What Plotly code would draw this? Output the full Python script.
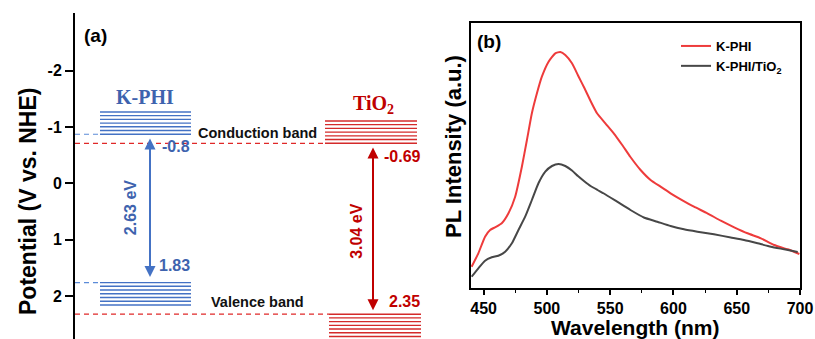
import plotly.graph_objects as go

# ---------------- Panel (a) data: band edges (V vs. NHE) ----------------
materials = ["K-PHI", "TiO<sub>2</sub>"]
cb_edge = [-0.87, -0.71]          # conduction band edges as drawn
vb_edge = [1.76, 2.32]            # valence band edges as drawn
cb_label = ["-0.8", "-0.69"]
vb_label = ["1.83", "2.35"]
gap_label = ["2.63 eV", "3.04 eV"]
n_levels = 7
level_step = 0.066
y_ticks = [-2, -1, 0, 1, 2]

# ---------------- Panel (b) data: PL spectra ----------------
wl_kphi = [440.5, 445.8, 451.1, 455.1, 459.0, 464.3, 469.6, 474.9, 480.2, 484.2,
           488.1, 492.1, 496.0, 501.3, 506.6, 510.6, 514.5, 519.8, 525.1, 529.6,
           534.5, 539.6, 546.2, 552.8, 559.5, 566.0, 574.0, 581.9, 589.8, 597.7,
           605.7, 616.2, 626.8, 637.4, 648.0, 658.5, 669.1, 679.6, 690.3, 699.5]
pl_kphi = [21.3, 34.7, 51.3, 58.0, 60.7, 64.7, 74.7, 91.3, 121.3, 148.0,
           174.7, 194.7, 211.3, 226.3, 234.7, 236.0, 233.0, 224.7, 211.3, 200.0,
           187.0, 174.7, 164.7, 154.7, 143.0, 131.0, 118.0, 108.0, 101.3, 94.7,
           88.7, 81.3, 74.7, 67.3, 60.7, 54.7, 49.7, 43.0, 38.7, 34.0]
wl_comp = [440.5, 445.8, 451.1, 456.4, 461.6, 467.0, 472.3, 477.5, 482.8, 488.1,
           493.3, 498.7, 504.0, 509.2, 514.5, 519.8, 524.5, 529.5, 534.5, 540.0,
           545.0, 555.5, 566.0, 576.6, 587.2, 597.7, 608.3, 618.9, 632.0, 645.3,
           655.8, 666.5, 677.0, 687.5, 698.2]
pl_comp = [11.3, 19.7, 27.3, 30.7, 32.3, 36.3, 44.7, 58.0, 71.3, 88.0,
           104.7, 116.3, 122.0, 124.0, 122.0, 117.5, 112.0, 106.8, 102.0, 98.0,
           94.5, 86.3, 78.0, 70.5, 66.3, 62.0, 58.7, 56.3, 53.7, 50.5,
           48.0, 44.7, 41.3, 38.7, 36.0]
series_names = ["K-PHI", "K-PHI/TiO<sub>2</sub>"]
wl_ticks = [450, 500, 550, 600, 650, 700]

W, H = 815, 339
SANS = "Liberation Sans, Arial, sans-serif"
SERIF = "Liberation Serif, Times New Roman, serif"

blue = "#4472C4"
blue_txt = "#3E63AE"
blue_dash = "#5B8BD8"
red = "#D42A2A"
red_txt = "#C00000"
red_dash = "#E02828"

fig = go.Figure()

# block geometry (x in panel-a units, pixels from the axis)
blocks_x = [(25, 116), (250, 342)]
vb_blocks_x = [(25, 116), (254, 346)]
colors = [blue, red]

for i in range(2):
    xs, ys = [], []
    x0, x1 = blocks_x[i]
    for k in range(n_levels):
        y = cb_edge[i] - k * level_step
        xs += [x0, x1, None]
        ys += [y, y, None]
    x0, x1 = vb_blocks_x[i]
    for k in range(n_levels):
        y = vb_edge[i] + k * level_step
        xs += [x0, x1, None]
        ys += [y, y, None]
    fig.add_trace(go.Scatter(x=xs, y=ys, mode="lines", line=dict(color=colors[i], width=1.4),
                             xaxis="x", yaxis="y", showlegend=False, hoverinfo="skip"))

# dashed extensions to the axis
fig.add_trace(go.Scatter(x=[0, blocks_x[0][0], None, 0, vb_blocks_x[0][0]],
                         y=[cb_edge[0], cb_edge[0], None, vb_edge[0], vb_edge[0]],
                         mode="lines", line=dict(color=blue_dash, width=1.2, dash="5px,4px"),
                         xaxis="x", yaxis="y", showlegend=False, hoverinfo="skip"))
fig.add_trace(go.Scatter(x=[0, blocks_x[1][0], None, 0, vb_blocks_x[1][0]],
                         y=[cb_edge[1], cb_edge[1], None, vb_edge[1], vb_edge[1]],
                         mode="lines", line=dict(color=red_dash, width=1.2, dash="5px,4px"),
                         xaxis="x", yaxis="y", showlegend=False, hoverinfo="skip"))


def txt(x, y, text, size, color, family=SANS, angle=0, ref="x"):
    d = dict(x=x, y=y, text=text, showarrow=False, xanchor="center", yanchor="middle",
             textangle=angle, font=dict(family=family, size=size, color=color))
    if ref == "x":
        d.update(xref="x", yref="y")
    else:
        d.update(xref="paper", yref="paper")
    return d


ann = []
ann.append(txt(70, -1.53, "<b>" + materials[0] + "</b>", 20, blue_txt, SERIF))
ann.append(txt(298, -1.40, "<b>" + materials[1] + "</b>", 20, red_txt, SERIF))
ann.append(txt(182, -0.89, "<b>Conduction band</b>", 14.5, "#111111"))
ann.append(txt(182, 2.10, "<b>Valence band</b>", 14.5, "#111111"))
ann.append(txt(101, -0.66, "<b>" + cb_label[0] + "</b>", 16, blue_txt))
ann.append(txt(99, 1.45, "<b>" + vb_label[0] + "</b>", 16, blue_txt))
ann.append(txt(327, -0.48, "<b>" + cb_label[1] + "</b>", 16, red_txt))
ann.append(txt(329, 2.09, "<b>" + vb_label[1] + "</b>", 16, red_txt))
ann.append(txt(55, 0.44, "<b>" + gap_label[0] + "</b>", 16, blue_txt, angle=-90))
ann.append(txt(282, 0.86, "<b>" + gap_label[1] + "</b>", 16, red_txt, angle=-90))
# double arrows
ann.append(dict(x=75, y=vb_edge[0] - 0.1, ax=75, ay=cb_edge[0] + 0.05, xref="x", yref="y",
                axref="x", ayref="y", text="", showarrow=True, arrowhead=2, startarrowhead=2,
                arrowside="end+start", arrowsize=1.1, arrowwidth=2, arrowcolor=blue))
ann.append(dict(x=298, y=vb_edge[1] - 0.07, ax=298, ay=cb_edge[1] + 0.05, xref="x", yref="y",
                axref="x", ayref="y", text="", showarrow=True, arrowhead=2, startarrowhead=2,
                arrowside="end+start", arrowsize=1.1, arrowwidth=2, arrowcolor=red_txt))
# panel letters and axis titles
ann.append(txt(95 / W, 1 - 35 / H, "<b>(a)</b>", 19, "black", ref="paper"))
ann.append(txt(489 / W, 1 - 41 / H, "<b>(b)</b>", 19, "black", ref="paper"))
ann.append(txt(28 / W, 1 - 202 / H, "<b>Potential (V vs. NHE)</b>", 23, "black", angle=-90, ref="paper"))
ann.append(txt(453 / W, 1 - 147 / H, "<b>PL Intensity (a.u.)</b>", 22, "black", angle=-90, ref="paper"))
ann.append(txt(635 / W, 1 - 327 / H, "<b>Wavelength (nm)</b>", 21, "black", ref="paper"))

# ---------------- Panel (b) curves ----------------
fig.add_trace(go.Scatter(x=wl_kphi, y=pl_kphi, mode="lines", name=series_names[0],
                         line=dict(color="#EE3B3B", width=2, shape="spline", smoothing=0.5),
                         xaxis="x2", yaxis="y2"))
fig.add_trace(go.Scatter(x=wl_comp, y=pl_comp, mode="lines", name=series_names[1],
                         line=dict(color="#474747", width=2, shape="spline", smoothing=0.5),
                         xaxis="x2", yaxis="y2"))

fig.update_layout(
    width=W, height=H, autosize=False,
    margin=dict(l=0, r=0, t=0, b=0, autoexpand=False),
    paper_bgcolor="white", plot_bgcolor="white",
    annotations=ann,
    showlegend=True,
    legend=dict(x=676 / W, y=1 - 31 / H, xref="container", yref="container",
                xanchor="left", yanchor="top",
                bgcolor="rgba(0,0,0,0)", font=dict(family=SANS, size=13, color="black", weight="bold"),
                tracegroupgap=0, itemwidth=30),
    xaxis=dict(domain=[75 / W, 430 / W], range=[0, 355], visible=False, fixedrange=True),
    yaxis=dict(domain=[0, 1 - 13 / H], range=[2.76, -3.02], showline=True, linecolor="black",
               linewidth=2, ticks="outside", ticklen=8, tickwidth=1.5, tickcolor="black",
               tickvals=y_ticks, ticktext=[str(v) for v in y_ticks], showgrid=False,
               zeroline=False, tickfont=dict(family=SANS, size=16, color="black", weight="bold"),
               anchor="x"),
    xaxis2=dict(domain=[471 / W, 800 / W], range=[440, 700], anchor="y2", showline=True,
                mirror=True, linecolor="black", linewidth=2, ticks="outside", ticklen=5,
                tickwidth=1.5, tickcolor="black", tickvals=wl_ticks, showgrid=False, zeroline=False,
                tickfont=dict(family=SANS, size=16, color="black", weight="bold"),
                minor=dict(ticks="outside", ticklen=3, tickwidth=1.2, dtick=25, tick0=425,
                           tickcolor="black", showgrid=False)),
    yaxis2=dict(domain=[(H - 288) / H, (H - 23) / H], range=[0, 265], anchor="x2", showline=True,
                mirror=True, linecolor="black", linewidth=2, ticks="", showticklabels=False,
                showgrid=False, zeroline=False),
)

fig.write_html(
    "out.html",
    config={"responsive": False, "displayModeBar": False},
    post_script=("document.documentElement.style.overflow='hidden';"
                 "document.body.style.overflow='hidden';"
                 "document.body.style.margin='0';"),
)
